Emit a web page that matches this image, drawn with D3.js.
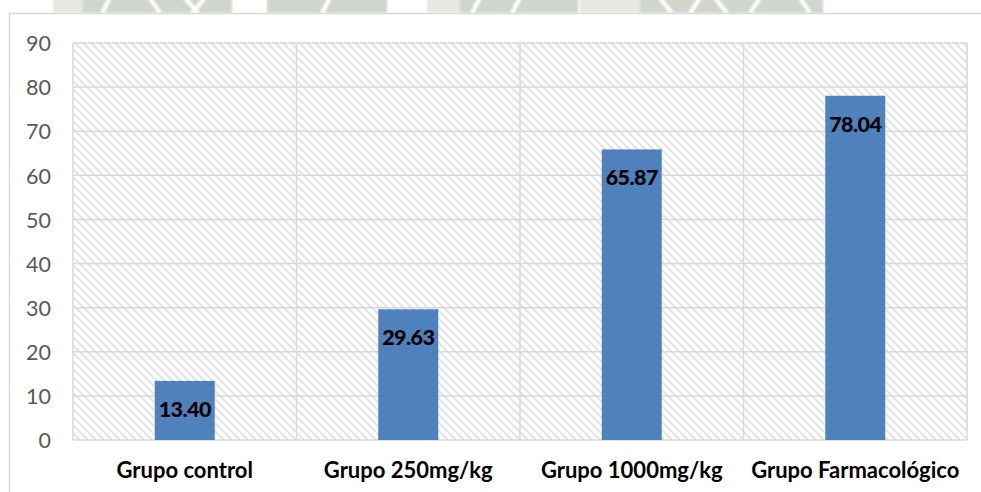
<!DOCTYPE html>
<html>
<head>
<meta charset="utf-8">
<script src="https://cdn.jsdelivr.net/npm/d3@7"></script>
<style>
  html, body { margin: 0; padding: 0; background: #fff; }
  svg { display: block; }
</style>
</head>
<body>
<svg id="chart" width="981" height="492"></svg>
<script>
// Values per group
const categories = ["Grupo control", "Grupo 250mg/kg", "Grupo 1000mg/kg", "Grupo Farmacológico"];
const values = [13.40, 29.63, 65.87, 78.04];
const yTicks = [0, 10, 20, 30, 40, 50, 60, 70, 80, 90];

const W = 981, H = 492;
const plot = { left: 73, top: 43, right: 967, bottom: 440 };
const FONT = "Lato, 'Open Sans', sans-serif";

const svg = d3.select("#chart");
const defs = svg.append("defs");

// Diagonal hatch fill for the plot area
const hatch = defs.append("pattern")
  .attr("id", "hatch")
  .attr("patternUnits", "userSpaceOnUse")
  .attr("width", 8).attr("height", 8);
hatch.append("rect").attr("width", 8).attr("height", 8).attr("fill", "#fff");
hatch.append("path")
  .attr("d", "M-2,-2 L10,10 M-2,6 L2,10 M6,-2 L10,2")
  .attr("stroke", "#e4e4e4").attr("stroke-width", 2);

// Soft blur for the faded logo strip
defs.append("filter").attr("id", "soft")
  .append("feGaussianBlur").attr("stdDeviation", 1.2);

// Faded logo strip along the top edge
const logo = svg.append("g").attr("filter", "url(#soft)");
const wmDark = "#d0d6cc", wmLight = "#e5e8e3";
[[53, 83, wmLight], [83, 232, wmDark], [267, 387, wmDark], [427, 460, wmLight],
 [460, 578, wmDark], [580, 640, wmLight], [640, 823, wmDark]].forEach(([a, b, c]) => {
  logo.append("rect").attr("x", a).attr("y", -4).attr("width", b - a).attr("height", 17).attr("fill", c);
});
[[110, 102], [150, 160], [185, 198], [205, 192], [330, 322], [480, 472], [520, 512],
 [660, 672], [700, 690], [715, 727], [760, 750], [800, 810]].forEach(([a, b]) => {
  logo.append("line").attr("x1", a).attr("y1", -2).attr("x2", b).attr("y2", 13)
    .attr("stroke", "#fff").attr("stroke-width", 4);
});

// Chart area frame
svg.append("rect").attr("x", 9.5).attr("y", 13.5).attr("width", W).attr("height", H)
  .attr("fill", "#fff").attr("stroke", "#d9d9d9").attr("stroke-width", 1.5);

const x = d3.scaleBand().domain(categories).range([plot.left, plot.right]).paddingInner(0).paddingOuter(0);
const y = d3.scaleLinear().domain([0, 90]).range([plot.bottom, plot.top]);

// Plot area background
svg.append("rect")
  .attr("x", plot.left).attr("y", plot.top)
  .attr("width", plot.right - plot.left).attr("height", plot.bottom - plot.top)
  .attr("fill", "url(#hatch)");

// Horizontal gridlines
svg.append("g").selectAll("line").data(yTicks).join("line")
  .attr("x1", plot.left).attr("x2", plot.right)
  .attr("y1", d => y(d)).attr("y2", d => y(d))
  .attr("stroke", "#d9d9d9").attr("stroke-width", 1.5);

// Vertical category dividers
const dividers = categories.map(c => x(c)).concat([plot.right]);
svg.append("g").selectAll("line").data(dividers).join("line")
  .attr("x1", d => d).attr("x2", d => d)
  .attr("y1", plot.top).attr("y2", plot.bottom)
  .attr("stroke", "#d9d9d9").attr("stroke-width", 1.5);

// Y axis labels
const yAxis = d3.axisLeft(y).tickValues(yTicks).tickSize(0).tickPadding(0);
const yg = svg.append("g").attr("transform", `translate(51,0)`).call(yAxis);
yg.select(".domain").remove();
yg.selectAll("text")
  .attr("font-family", FONT)
  .attr("font-size", 21.5)
  .attr("fill", "#595959")
  .attr("dy", "0.36em");

// Bars
const barW = 60;
const data = categories.map((c, i) => ({ c, v: values[i] }));
svg.append("g").selectAll("rect").data(data).join("rect")
  .attr("x", d => x(d.c) + x.bandwidth() / 2 - barW / 2)
  .attr("y", d => y(d.v))
  .attr("width", barW)
  .attr("height", d => y(0) - y(d.v))
  .attr("fill", "#4f81bd");

// Value labels inside bar tops
svg.append("g").selectAll("text").data(data).join("text")
  .attr("x", d => x(d.c) + x.bandwidth() / 2)
  .attr("y", d => y(d.v) + 36)
  .attr("text-anchor", "middle")
  .attr("font-family", FONT)
  .attr("font-weight", 900)
  .attr("font-size", 21.5)
  .attr("letter-spacing", "-0.6px")
  .attr("fill", "#000")
  .text(d => d.v.toFixed(2));

// Category labels
const xAxis = d3.axisBottom(x).tickSize(0).tickPadding(0);
const xg = svg.append("g").attr("transform", `translate(0,${plot.bottom})`).call(xAxis);
xg.select(".domain").remove();
xg.selectAll("text")
  .attr("y", 38).attr("dy", 0)
  .attr("font-family", FONT)
  .attr("font-weight", "bold")
  .attr("font-size", 22)
  .attr("fill", "#000");
</script>
</body>
</html>
